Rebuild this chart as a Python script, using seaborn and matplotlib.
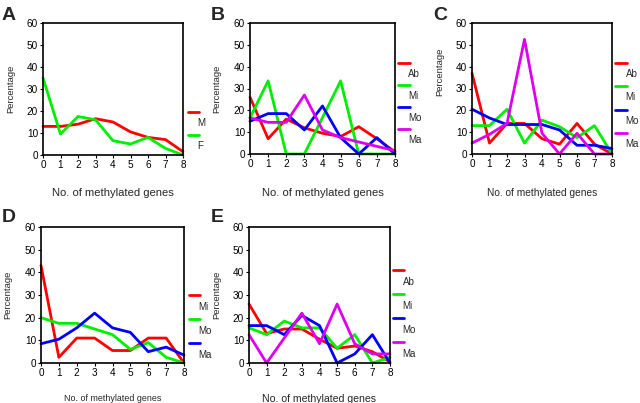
import numpy as np
import pandas as pd
import matplotlib
matplotlib.use("Agg")
import matplotlib.pyplot as plt
import seaborn as sns

sns.set_style("ticks")
plt.rcParams['font.family'] = ['Liberation Sans', 'DejaVu Sans']

genes = list(range(9))
xticks = list(range(9))
yticks = [0, 10, 20, 30, 40, 50, 60]

# Panel A
a_names = ["M", "F"]
a_M = [13, 13, 14, 16.5, 15, 10.5, 8, 7, 1.5]
a_F = [35, 9.5, 17.5, 16, 6.5, 5, 8, 3, 0]

# Panel B
b_names = ["Ab", "Mi", "Mo", "Ma"]
b_Ab = [26, 7, 16, 12, 9.5, 8, 12.5, 7, 1]
b_Mi = [16.5, 33.5, 0, 0, 16.7, 33.5, 0, 0, 0]
b_Mo = [15, 18.5, 18.5, 11, 22, 7.5, 0, 7.5, 0]
b_Ma = [16.5, 14.5, 14.5, 27, 11, 7.5, 5.5, 3.5, 1.5]

# Panel C
c_names = ["Ab", "Mi", "Mo", "Ma"]
c_Ab = [37, 5, 14, 14, 7, 4.5, 14, 4.5, 0]
c_Mi = [13, 13, 20.5, 5, 15.5, 12.5, 7.5, 13, 0]
c_Mo = [20.5, 16.5, 13.5, 13.5, 13.5, 11, 4, 4, 2.5]
c_Ma = [5, 9, 14, 52.5, 9.5, 0, 9.5, 0, 0]

# Panel D
d_names = ["Mi", "Mo", "Ma"]
d_Mi = [43, 2.5, 11, 11, 5.5, 5.5, 11, 11, 0]
d_Mo = [20, 17.5, 17.5, 15, 12.5, 6, 9, 2.5, 0]
d_Ma = [8.5, 10.5, 15.5, 22, 15.5, 13.5, 5, 7, 3.5]

# Panel E
e_names = ["Ab", "Mi", "Mo", "Ma"]
e_Ab = [26, 13, 15, 15, 10.5, 6.5, 7.5, 5, 0.5]
e_Mi = [15.5, 12.5, 18.5, 15.5, 15.5, 6.5, 12.5, 0, 2.5]
e_Mo = [16.5, 16.5, 12.5, 21, 16.5, 0, 4, 12.5, 0]
e_Ma = [12.5, 0, 11, 22, 8.5, 26, 8.5, 4, 4]

RED, GREEN, BLUE, MAG = "#ff0000", "#00ee00", "#0000ff", "#dd00ee"

fig = plt.figure(figsize=(6.4, 4.03), dpi=100)
W, H = 640, 403

def make_ax(l, r, t, b):
    return fig.add_axes([l / W, (H - b) / H, (r - l) / W, (b - t) / H])

def draw(ax, names, series, colors, leg_x0, leg_x1, leg_y, step, xl_fs, xl_y, letter, lpos, ylab_center=None):
    df = pd.concat([pd.DataFrame({"genes": genes, "pct": s, "grp": n})
                    for n, s in zip(names, series)], ignore_index=True)
    sns.lineplot(data=df, x="genes", y="pct", hue="grp", palette=dict(zip(names, colors)),
                 linewidth=2.0, legend=False, ax=ax, clip_on=False)
    ax.set_xlim(0, 8)
    ax.set_ylim(0, 60)
    ax.set_xticks(xticks)
    ax.set_yticks(yticks)
    ax.tick_params(labelsize=7.2, length=2.5, width=0.8, pad=1, colors="black")
    for sp in ax.spines.values():
        sp.set_visible(True)
        sp.set_linewidth(1.2)
        sp.set_color("black")
    ax.set_xlabel("No. of methylated genes", fontsize=xl_fs)
    ax.xaxis.set_label_coords(0.5, xl_y)
    ax.set_ylabel("Percentage", fontsize=6.8)
    ax.yaxis.set_label_coords(-0.2, 0.5 if ylab_center is None else ylab_center)
    for i, (n, c) in enumerate(zip(names, colors)):
        y = leg_y - i * step
        ax.plot([leg_x0, leg_x1], [y, y], color=c, linewidth=2.0, transform=ax.transAxes, clip_on=False)
        ax.text(leg_x1 - 0.01, y - 0.085, n, fontsize=7, transform=ax.transAxes, va="center", ha="left")
    fig.text(lpos[0] / W, 1 - lpos[1] / H, letter, fontsize=14, fontweight="bold", ha="left", va="baseline")

axA = make_ax(43, 183, 23, 155)
draw(axA, a_names, [a_M, a_F], [RED, GREEN], 1.036, 1.114, 0.326, 0.174, 8.1, -0.25, "A", (2, 20))

axB = make_ax(250, 395, 23, 154)
draw(axB, b_names, [b_Ab, b_Mi, b_Mo, b_Ma], [RED, GREEN, BLUE, MAG], 1.02, 1.10, 0.695, 0.168, 8.1, -0.26, "B", (211, 20))

axC = make_ax(472, 612, 23, 154)
draw(axC, c_names, [c_Ab, c_Mi, c_Mo, c_Ma], [RED, GREEN, BLUE, MAG], 1.02, 1.107, 0.695, 0.178, 7.3, -0.26, "C", (433, 20), ylab_center=0.63)

axD = make_ax(41, 184, 227, 363)
draw(axD, d_names, [d_Mi, d_Mo, d_Ma], [RED, GREEN, BLUE], 1.035, 1.11, 0.5, 0.177, 6.4, -0.23, "D", (2, 222))

axE = make_ax(249, 390, 227, 363)
draw(axE, e_names, [e_Ab, e_Mi, e_Mo, e_Ma], [RED, GREEN, BLUE, MAG], 1.02, 1.10, 0.684, 0.177, 7.6, -0.23, "E", (211, 222))

fig.savefig("out.png", dpi=100, facecolor="white")
